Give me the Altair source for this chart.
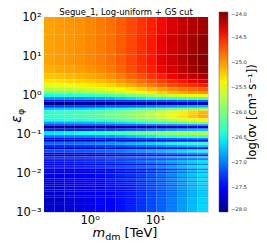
import altair as alt
import pandas as pd

# dark-matter mass bin edges [TeV]
mass_edges = [0.2, 0.287, 0.412, 0.591, 0.848, 1.22, 1.75, 2.51, 3.6, 5.16,
              7.4, 10.6, 15.2, 21.9, 31.4, 45.0, 65.0]

# epsilon_phi bin edges (top to bottom)
eps_edges = [100, 35, 11, 5.6, 3.55, 2.5, 2.0, 1.58, 1.26, 1.06, 0.89, 0.75,
             0.67, 0.55, 0.47, 0.40, 0.316, 0.25, 0.21, 0.178, 0.163, 0.137,
             0.119, 0.094, 0.079, 0.073, 0.063, 0.053, 0.046, 0.040, 0.0335,
             0.030, 0.0266, 0.0237, 0.0218, 0.0194, 0.0173, 0.0158, 0.0141,
             0.013, 0.0119, 0.0106, 0.0097, 0.0089, 0.0079, 0.0073, 0.0063,
             0.0058, 0.005, 0.0045, 0.0038, 0.0033, 0.0027, 0.0024, 0.0018,
             0.0016, 0.001]

# log10(sigma v) per eps row (top to bottom), per mass bin (left to right)
log_sigv = [
    [-25.05, -25.02, -25.0, -24.97, -24.93, -24.88, -24.83, -24.76, -24.67, -24.58, -24.49, -24.4, -24.32, -24.24, -24.17, -24.12],
    [-25.05, -25.02, -25.0, -24.97, -24.93, -24.88, -24.83, -24.75, -24.66, -24.56, -24.46, -24.37, -24.28, -24.2, -24.12, -24.06],
    [-25.05, -25.02, -25.0, -24.97, -24.93, -24.88, -24.83, -24.75, -24.65, -24.55, -24.45, -24.35, -24.27, -24.18, -24.1, -24.03],
    [-25.1, -25.07, -25.05, -25.02, -24.98, -24.93, -24.87, -24.79, -24.69, -24.59, -24.48, -24.38, -24.29, -24.2, -24.11, -24.04],
    [-25.2, -25.18, -25.15, -25.12, -25.08, -25.03, -24.97, -24.89, -24.79, -24.69, -24.58, -24.48, -24.38, -24.3, -24.22, -24.16],
    [-25.32, -25.3, -25.27, -25.24, -25.2, -25.15, -25.09, -25.01, -24.92, -24.82, -24.72, -24.61, -24.51, -24.43, -24.36, -24.3],
    [-25.5, -25.47, -25.44, -25.4, -25.36, -25.31, -25.25, -25.17, -25.08, -24.98, -24.88, -24.78, -24.68, -24.6, -24.53, -24.48],
    [-25.76, -25.73, -25.7, -25.66, -25.62, -25.57, -25.5, -25.42, -25.33, -25.23, -25.13, -25.03, -24.94, -24.86, -24.8, -24.75],
    [-26.05, -26.02, -25.99, -25.95, -25.9, -25.84, -25.77, -25.68, -25.58, -25.47, -25.36, -25.25, -25.15, -25.07, -25.01, -24.97],
    [-26.5, -26.47, -26.44, -26.4, -26.35, -26.29, -26.22, -26.14, -26.04, -25.93, -25.82, -25.71, -25.61, -25.52, -25.46, -25.42],
    [-26.95, -26.93, -26.91, -26.88, -26.85, -26.81, -26.76, -26.7, -26.63, -26.56, -26.48, -26.41, -26.34, -26.28, -26.23, -26.2],
    [-27.45, -27.44, -27.43, -27.42, -27.41, -27.4, -27.38, -27.36, -27.33, -27.3, -27.26, -27.22, -27.18, -27.15, -27.12, -27.1],
    [-27.95, -27.95, -27.95, -27.94, -27.94, -27.93, -27.92, -27.91, -27.9, -27.88, -27.86, -27.83, -27.8, -27.77, -27.74, -27.72],
    [-27.3, -27.29, -27.28, -27.27, -27.25, -27.23, -27.2, -27.17, -27.13, -27.09, -27.04, -26.99, -26.94, -26.89, -26.85, -26.8],
    [-26.72, -26.7, -26.68, -26.65, -26.62, -26.58, -26.53, -26.47, -26.4, -26.32, -26.23, -26.14, -26.05, -25.96, -25.88, -25.82],
    [-26.38, -26.35, -26.32, -26.28, -26.23, -26.17, -26.1, -26.02, -25.93, -25.83, -25.72, -25.6, -25.48, -25.37, -25.26, -25.15],
    [-26.36, -26.33, -26.3, -26.26, -26.21, -26.15, -26.08, -26.0, -25.91, -25.81, -25.7, -25.58, -25.46, -25.34, -25.22, -25.1],
    [-26.5, -26.48, -26.45, -26.41, -26.37, -26.32, -26.26, -26.19, -26.11, -26.02, -25.92, -25.82, -25.71, -25.6, -25.5, -25.4],
    [-26.88, -26.86, -26.84, -26.82, -26.79, -26.75, -26.71, -26.66, -26.6, -26.53, -26.45, -26.37, -26.28, -26.19, -26.1, -26.02],
    [-27.4, -27.39, -27.38, -27.37, -27.36, -27.34, -27.32, -27.29, -27.26, -27.22, -27.17, -27.12, -27.07, -27.02, -26.97, -26.93],
    [-27.95, -27.95, -27.94, -27.94, -27.93, -27.92, -27.91, -27.9, -27.88, -27.86, -27.83, -27.8, -27.77, -27.74, -27.71, -27.68],
    [-27.35, -27.34, -27.33, -27.31, -27.29, -27.26, -27.23, -27.19, -27.14, -27.09, -27.03, -26.97, -26.9, -26.84, -26.78, -26.73],
    [-26.6, -26.57, -26.54, -26.5, -26.45, -26.4, -26.34, -26.27, -26.19, -26.11, -26.03, -25.95, -25.88, -25.82, -25.78, -25.75],
    [-27.05, -27.03, -27.01, -26.98, -26.95, -26.91, -26.86, -26.8, -26.73, -26.66, -26.58, -26.5, -26.43, -26.37, -26.32, -26.28],
    [-27.5, -27.49, -27.48, -27.47, -27.45, -27.43, -27.4, -27.36, -27.32, -27.27, -27.21, -27.15, -27.09, -27.03, -26.98, -26.94],
    [-27.92, -27.92, -27.91, -27.9, -27.89, -27.88, -27.86, -27.84, -27.81, -27.78, -27.74, -27.7, -27.66, -27.62, -27.58, -27.55],
    [-27.1, -27.08, -27.06, -27.03, -27.0, -26.96, -26.91, -26.86, -26.8, -26.73, -26.66, -26.58, -26.51, -26.45, -26.4, -26.36],
    [-27.35, -27.34, -27.32, -27.3, -27.28, -27.25, -27.21, -27.17, -27.12, -27.06, -27.0, -26.93, -26.86, -26.8, -26.75, -26.7],
    [-27.9, -27.9, -27.89, -27.88, -27.87, -27.85, -27.83, -27.8, -27.77, -27.73, -27.69, -27.64, -27.59, -27.54, -27.5, -27.46],
    [-27.2, -27.19, -27.17, -27.15, -27.12, -27.08, -27.04, -26.99, -26.93, -26.87, -26.8, -26.73, -26.66, -26.59, -26.53, -26.48],
    [-27.5, -27.49, -27.48, -27.46, -27.44, -27.41, -27.38, -27.34, -27.29, -27.24, -27.18, -27.11, -27.04, -26.98, -26.92, -26.87],
    [-27.88, -27.88, -27.87, -27.86, -27.85, -27.83, -27.8, -27.77, -27.73, -27.69, -27.64, -27.58, -27.52, -27.46, -27.41, -27.36],
    [-27.3, -27.29, -27.27, -27.25, -27.22, -27.19, -27.15, -27.1, -27.04, -26.98, -26.91, -26.84, -26.76, -26.69, -26.63, -26.58],
    [-27.82, -27.82, -27.81, -27.8, -27.78, -27.76, -27.73, -27.7, -27.66, -27.61, -27.56, -27.5, -27.44, -27.38, -27.32, -27.27],
    [-27.4, -27.39, -27.37, -27.35, -27.32, -27.29, -27.25, -27.2, -27.14, -27.08, -27.01, -26.94, -26.86, -26.78, -26.7, -26.63],
    [-27.48, -27.47, -27.45, -27.43, -27.4, -27.37, -27.33, -27.28, -27.22, -27.15, -27.08, -27.0, -26.92, -26.83, -26.74, -26.66],
    [-27.85, -27.84, -27.83, -27.81, -27.79, -27.76, -27.72, -27.68, -27.63, -27.57, -27.5, -27.42, -27.33, -27.23, -27.12, -27.02],
    [-27.45, -27.44, -27.42, -27.4, -27.37, -27.33, -27.29, -27.24, -27.18, -27.11, -27.03, -26.95, -26.86, -26.76, -26.66, -26.57],
    [-27.55, -27.54, -27.52, -27.5, -27.47, -27.43, -27.39, -27.34, -27.28, -27.21, -27.13, -27.05, -26.96, -26.86, -26.76, -26.67],
    [-27.85, -27.84, -27.83, -27.81, -27.79, -27.76, -27.72, -27.68, -27.63, -27.57, -27.5, -27.42, -27.33, -27.23, -27.12, -27.02],
    [-27.55, -27.54, -27.52, -27.49, -27.46, -27.42, -27.38, -27.33, -27.27, -27.2, -27.12, -27.03, -26.94, -26.84, -26.73, -26.63],
    [-27.85, -27.84, -27.82, -27.79, -27.75, -27.71, -27.66, -27.6, -27.54, -27.47, -27.39, -27.3, -27.2, -27.09, -26.97, -26.86],
    [-27.62, -27.61, -27.58, -27.55, -27.51, -27.46, -27.41, -27.35, -27.29, -27.22, -27.14, -27.05, -26.95, -26.84, -26.72, -26.62],
    [-27.65, -27.63, -27.6, -27.56, -27.52, -27.47, -27.42, -27.36, -27.3, -27.23, -27.15, -27.06, -26.96, -26.85, -26.73, -26.62],
    [-27.85, -27.84, -27.82, -27.79, -27.75, -27.71, -27.66, -27.6, -27.54, -27.47, -27.39, -27.3, -27.2, -27.09, -26.97, -26.86],
    [-27.65, -27.63, -27.6, -27.56, -27.52, -27.47, -27.42, -27.36, -27.3, -27.23, -27.15, -27.06, -26.96, -26.85, -26.73, -26.62],
    [-27.82, -27.81, -27.79, -27.76, -27.72, -27.68, -27.63, -27.57, -27.51, -27.44, -27.36, -27.27, -27.17, -27.06, -26.94, -26.83],
    [-27.68, -27.66, -27.63, -27.59, -27.55, -27.5, -27.45, -27.39, -27.33, -27.26, -27.18, -27.09, -26.99, -26.88, -26.76, -26.65],
    [-27.82, -27.81, -27.79, -27.76, -27.72, -27.68, -27.63, -27.57, -27.51, -27.44, -27.36, -27.27, -27.17, -27.06, -26.94, -26.83],
    [-27.7, -27.68, -27.65, -27.61, -27.57, -27.52, -27.47, -27.41, -27.35, -27.28, -27.2, -27.11, -27.01, -26.9, -26.78, -26.67],
    [-27.8, -27.78, -27.76, -27.72, -27.68, -27.63, -27.58, -27.52, -27.46, -27.39, -27.31, -27.22, -27.12, -27.01, -26.89, -26.78],
    [-27.72, -27.7, -27.67, -27.63, -27.59, -27.54, -27.49, -27.43, -27.37, -27.3, -27.22, -27.13, -27.03, -26.92, -26.8, -26.69],
    [-27.8, -27.78, -27.76, -27.72, -27.68, -27.63, -27.58, -27.52, -27.46, -27.39, -27.31, -27.22, -27.12, -27.01, -26.89, -26.78],
    [-27.75, -27.73, -27.7, -27.66, -27.62, -27.57, -27.51, -27.45, -27.38, -27.3, -27.21, -27.11, -27.0, -26.88, -26.76, -26.65],
    [-27.8, -27.78, -27.75, -27.71, -27.67, -27.62, -27.56, -27.5, -27.43, -27.35, -27.26, -27.16, -27.05, -26.93, -26.81, -26.7],
    [-27.75, -27.73, -27.7, -27.66, -27.62, -27.57, -27.51, -27.45, -27.38, -27.3, -27.21, -27.11, -27.0, -26.88, -26.76, -26.65],
]

colorbar_ticks = [-28.0, -27.5, -27.0, -26.5, -26.0, -25.5, -25.0, -24.5, -24.0]

records = []
for i, row in enumerate(log_sigv):
    for j, v in enumerate(row):
        records.append({"m_lo": mass_edges[j], "m_hi": mass_edges[j + 1],
                        "e_hi": eps_edges[i], "e_lo": eps_edges[i + 1], "v": v})
df = pd.DataFrame(records)

# matplotlib "jet" colormap stops over [-28, -24]
jet_domain = [-28, -27.56, -27.5, -26.64, -26.6, -26.5, -25.44, -25.4, -25.36, -24.44, -24.36, -24]
jet_range = ["#000080", "#0000ff", "#0000ff", "#00dbff", "#00e5f7", "#15ffe2",
             "#eeff08", "#f7f500", "#ffec00", "#ff1300", "#e80000", "#800000"]

FONT = "DejaVu Sans"

y_label_expr = ("datum.value > 50 ? '10²' : datum.value > 5 ? '10¹' : datum.value > 0.5 ? '10⁰' : "
                "datum.value > 0.05 ? '10⁻¹' : datum.value > 0.005 ? '10⁻²' : '10⁻³'")

heat = alt.Chart(df).mark_rect().encode(
    x=alt.X("m_lo:Q", scale=alt.Scale(type="log", domain=[0.2, 65], nice=False),
            axis=alt.Axis(values=[1, 10], labelExpr="datum.value > 5 ? '10¹' : '10⁰'",
                          title=None, ticks=False, domain=False, grid=False,
                          labelFontSize=11.5, labelPadding=2, labelColor="#000")),
    x2="m_hi:Q",
    y=alt.Y("e_lo:Q", scale=alt.Scale(type="log", domain=[0.001, 100], nice=False),
            axis=alt.Axis(values=[0.001, 0.01, 0.1, 1, 10, 100], labelExpr=y_label_expr,
                          title=None, ticks=False, domain=False, grid=False,
                          labelFontSize=11.5, labelPadding=3, labelColor="#000")),
    y2="e_hi:Q",
    color=alt.Color("v:Q",
                    scale=alt.Scale(domain=jet_domain, range=jet_range, interpolate="rgb"),
                    legend=alt.Legend(type="gradient", orient="none", legendX=175, legendY=-5,
                                      direction="vertical", gradientLength=200,
                                      gradientThickness=9, title=None,
                                      values=colorbar_ticks, format=".1f",
                                      labelFontSize=5.2, labelColor="#333",
                                      labelOffset=3, gradientStrokeWidth=0.5,
                                      gradientStrokeColor="#555")),
)

def txt(s, x, y, size, angle=0, align="left", italic=False):
    return alt.Chart(pd.DataFrame({"t": [s]})).mark_text(
        align=align, baseline="alphabetic", fontSize=size, angle=angle,
        font=FONT, fontStyle="italic" if italic else "normal", color="#000"
    ).encode(text="t:N", x=alt.value(x), y=alt.value(y))

layers = [
    heat,
    txt("Segue_1, Log-uniform + GS cut", 82, -2.5, 8.5, align="center"),
    txt("m", 48.5, 220, 13, italic=True),
    txt("dm", 61.2, 222.5, 9.5),
    txt("[TeV]", 80.6, 220, 13),
    txt("ε", -23, 102, 13.5, angle=270, align="center", italic=True),
    txt("φ", -20, 98, 9.5, angle=270),
    txt("log(σv [cm³ s⁻¹])", 212, 95, 11.5, angle=270, align="center"),
]

chart = alt.layer(*layers).properties(
    width=164, height=195,
    autosize=alt.AutoSizeParams(type="none"),
    padding={"left": 36, "top": 9, "right": 51, "bottom": 29},
).configure_view(stroke=None).configure(font=FONT)

chart.save("out.html", embed_options={"renderer": "svg", "actions": False})
